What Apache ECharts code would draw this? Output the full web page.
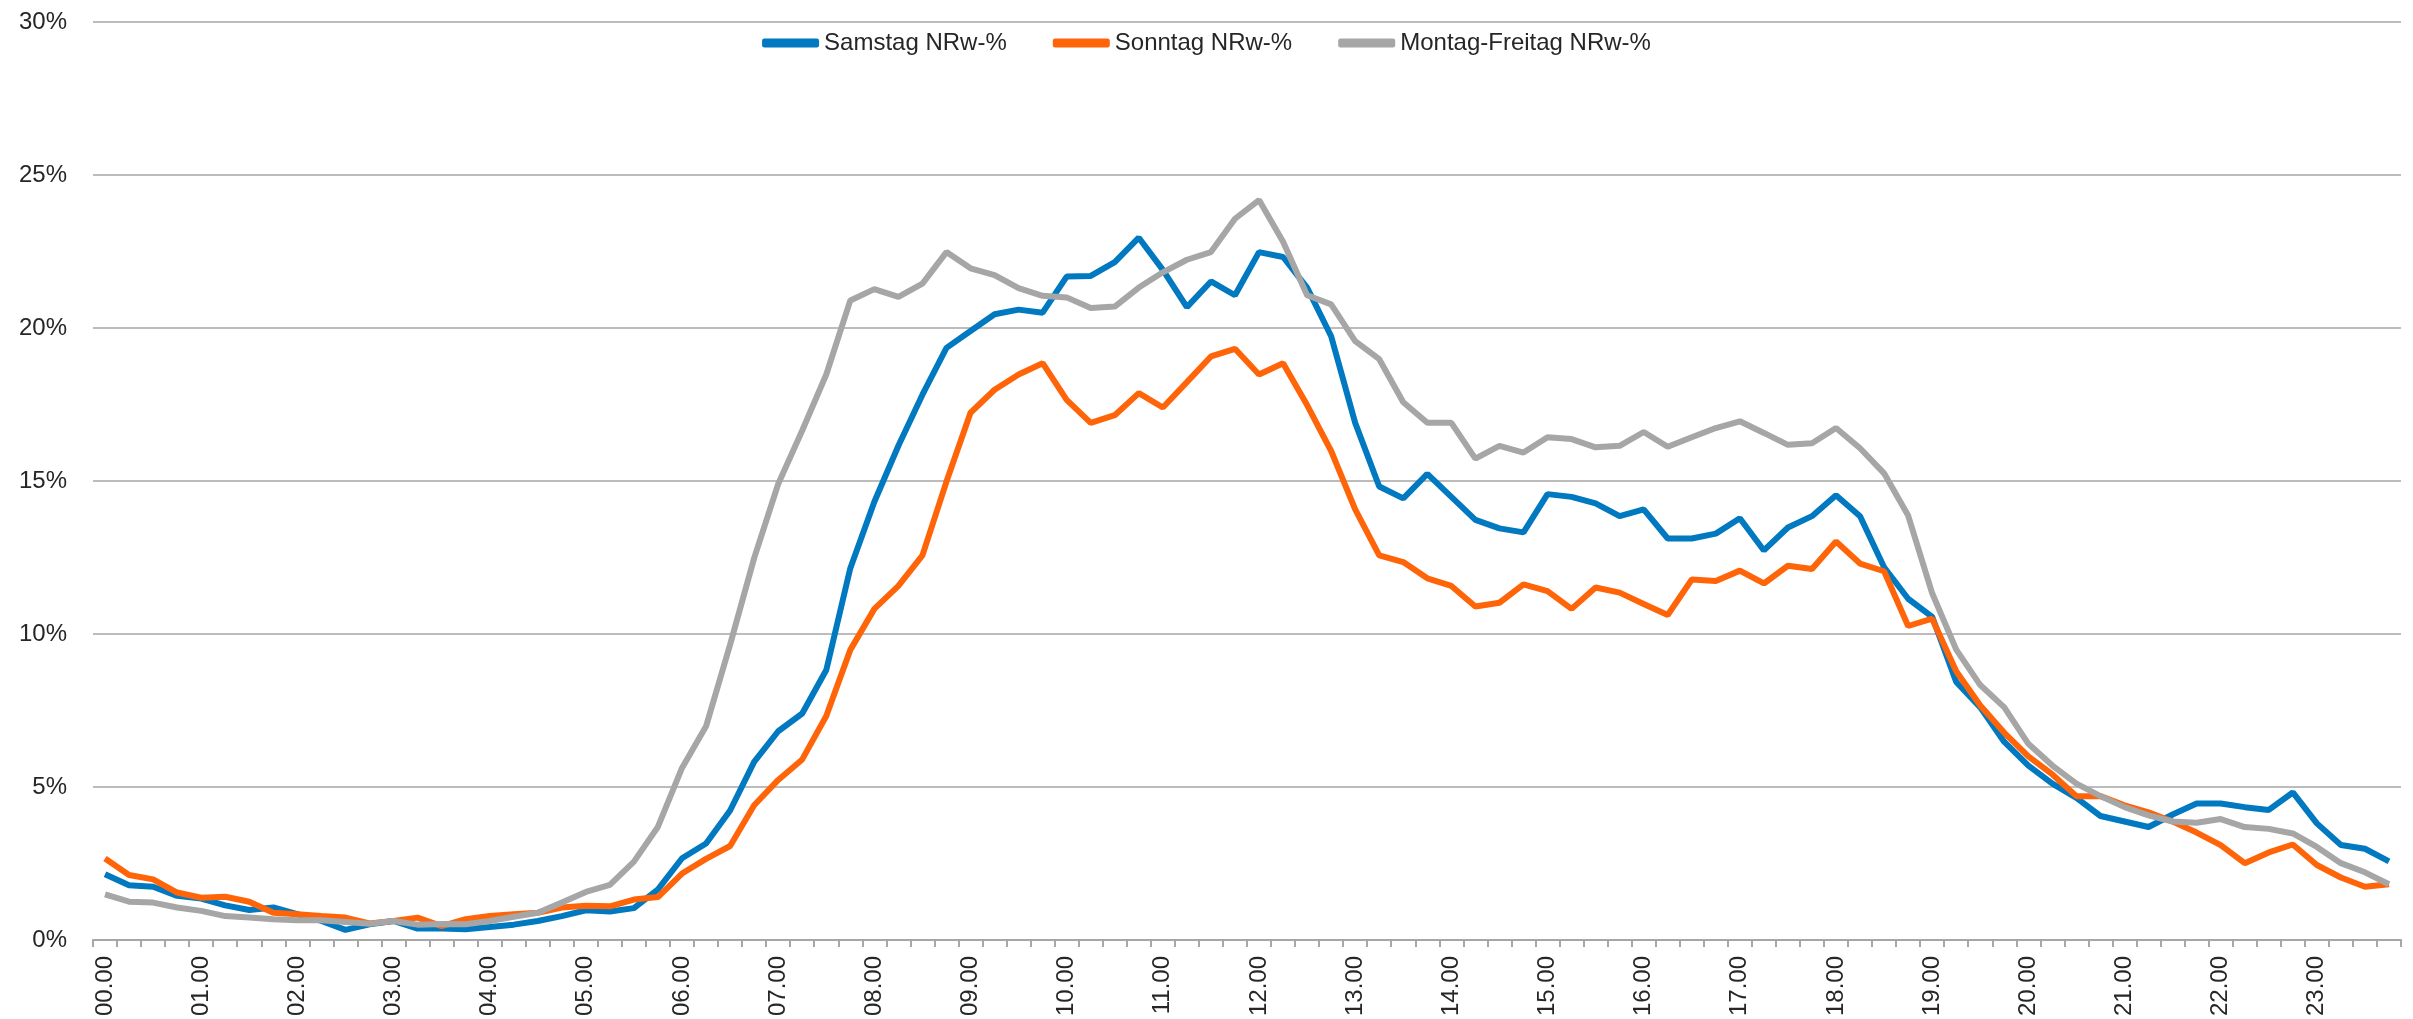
<!DOCTYPE html>
<html>
<head>
<meta charset="utf-8">
<script src="https://cdn.jsdelivr.net/npm/echarts@6/dist/echarts.min.js"></script>
<style>
  html, body { margin: 0; padding: 0; background: #fff; }
  #chart { width: 2413px; height: 1019px; }
</style>
</head>
<body>
<div id="chart"></div>
<script>
// Viertelstunden 00.00 .. 23.45
var zeiten = [];
for (var h = 0; h < 24; h++) {
    for (var m = 0; m < 60; m += 15) {
        zeiten.push((h < 10 ? '0' : '') + h + '.' + (m < 10 ? '0' : '') + m);
    }
}

var yTicks = [0, 5, 10, 15, 20, 25, 30];

var samstag = [
    2.15, 1.79, 1.74, 1.44, 1.35, 1.13, 0.98, 1.06, 0.84, 0.62, 0.33, 0.51,
    0.62, 0.37, 0.37, 0.35, 0.42, 0.50, 0.62, 0.78, 0.97, 0.93, 1.04, 1.65,
    2.67, 3.15, 4.23, 5.82, 6.82, 7.40, 8.82, 12.15, 14.32, 16.15, 17.82, 19.35,
    19.90, 20.45, 20.60, 20.50, 21.68, 21.70, 22.15, 22.95, 21.90, 20.68, 21.52, 21.07,
    22.48, 22.32, 21.32, 19.73, 16.90, 14.82, 14.43, 15.23, 14.48, 13.73, 13.45, 13.32,
    14.57, 14.48, 14.27, 13.85, 14.07, 13.12, 13.12, 13.28, 13.78, 12.73, 13.48, 13.85,
    14.53, 13.85, 12.18, 11.15, 10.56, 8.43, 7.60, 6.47, 5.70, 5.11, 4.64, 4.05,
    3.87, 3.69, 4.10, 4.46, 4.46, 4.34, 4.25, 4.82, 3.81, 3.10, 2.98, 2.57
];

var sonntag = [
    2.66, 2.12, 1.98, 1.55, 1.38, 1.41, 1.25, 0.89, 0.84, 0.78, 0.73, 0.54,
    0.62, 0.73, 0.45, 0.68, 0.78, 0.84, 0.89, 1.06, 1.12, 1.10, 1.32, 1.40,
    2.17, 2.65, 3.07, 4.40, 5.23, 5.90, 7.32, 9.48, 10.82, 11.57, 12.57, 14.98,
    17.23, 17.98, 18.48, 18.85, 17.65, 16.90, 17.15, 17.87, 17.40, 18.23, 19.07, 19.32,
    18.48, 18.85, 17.48, 15.98, 14.07, 12.57, 12.35, 11.82, 11.57, 10.90, 11.02, 11.62,
    11.40, 10.82, 11.52, 11.35, 10.98, 10.62, 11.78, 11.73, 12.07, 11.65, 12.23, 12.12,
    13.02, 12.30, 12.05, 10.26, 10.50, 8.78, 7.66, 6.77, 6.00, 5.41, 4.70, 4.70,
    4.40, 4.17, 3.87, 3.51, 3.10, 2.51, 2.86, 3.12, 2.45, 2.04, 1.74, 1.82
];

var montagFreitag = [
    1.49, 1.25, 1.22, 1.06, 0.95, 0.78, 0.73, 0.68, 0.64, 0.64, 0.59, 0.53,
    0.62, 0.50, 0.52, 0.51, 0.62, 0.76, 0.89, 1.22, 1.57, 1.80, 2.56, 3.70,
    5.62, 6.98, 9.65, 12.48, 14.90, 16.65, 18.48, 20.90, 21.27, 21.02, 21.45, 22.48,
    21.95, 21.73, 21.30, 21.05, 21.00, 20.65, 20.70, 21.32, 21.82, 22.23, 22.48, 23.57,
    24.18, 22.82, 21.07, 20.77, 19.57, 18.98, 17.57, 16.90, 16.90, 15.73, 16.15, 15.93,
    16.43, 16.37, 16.10, 16.15, 16.60, 16.12, 16.43, 16.73, 16.95, 16.57, 16.18, 16.23,
    16.73, 16.07, 15.25, 13.87, 11.33, 9.49, 8.33, 7.60, 6.41, 5.70, 5.11, 4.70,
    4.34, 4.07, 3.87, 3.83, 3.95, 3.69, 3.63, 3.48, 3.04, 2.51, 2.21, 1.82
];

var schrift = '"Liberation Sans", Arial, sans-serif';

var chart = echarts.init(document.getElementById('chart'));

var option = {
    animation: false,
    textStyle: { fontFamily: schrift },
    grid: { left: 93, right: 12, top: 22, bottom: 78 },
    legend: {
        top: 26,
        left: 'center',
        itemWidth: 57,
        itemHeight: 9,
        itemGap: 46,
        icon: 'roundRect',
        textStyle: { fontSize: 24, color: '#262626', fontFamily: schrift },
        data: ['Samstag NRw-%', 'Sonntag NRw-%', 'Montag-Freitag NRw-%']
    },
    xAxis: {
        type: 'category',
        data: zeiten,
        boundaryGap: true,
        axisLine: { lineStyle: { color: '#a6a6a6', width: 2 } },
        axisTick: { show: true, interval: 0, length: 7, lineStyle: { color: '#a6a6a6', width: 2 } },
        axisLabel: {
            interval: 3,
            rotate: 90,
            margin: 16,
            fontSize: 24,
            color: '#262626',
            fontFamily: schrift
        }
    },
    yAxis: {
        type: 'value',
        min: yTicks[0],
        max: yTicks[yTicks.length - 1],
        interval: 5,
        axisLine: { show: false },
        axisTick: { show: false },
        splitLine: { lineStyle: { color: '#a6a6a6', width: 1.5 } },
        axisLabel: {
            formatter: '{value}%',
            margin: 26,
            fontSize: 24,
            color: '#262626',
            fontFamily: schrift
        }
    },
    series: [
        {
            name: 'Samstag NRw-%',
            type: 'line',
            data: samstag,
            showSymbol: false,
            itemStyle: { color: '#0079c1' },
            lineStyle: { color: '#0079c1', width: 6 }
        },
        {
            name: 'Sonntag NRw-%',
            type: 'line',
            data: sonntag,
            showSymbol: false,
            itemStyle: { color: '#ff6508' },
            lineStyle: { color: '#ff6508', width: 6 }
        },
        {
            name: 'Montag-Freitag NRw-%',
            type: 'line',
            data: montagFreitag,
            showSymbol: false,
            itemStyle: { color: '#a6a6a6' },
            lineStyle: { color: '#a6a6a6', width: 6 }
        }
    ]
};

chart.setOption(option);
</script>
</body>
</html>
